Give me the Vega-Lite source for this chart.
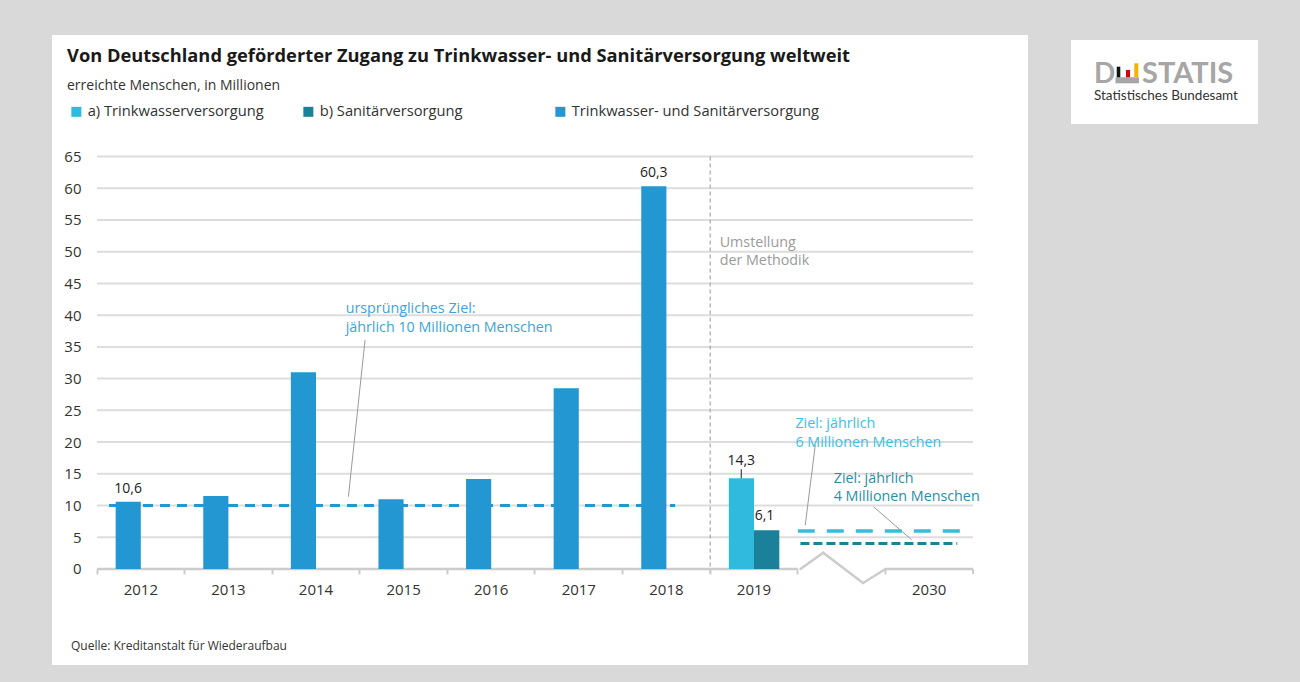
{
  "$schema": "https://vega.github.io/schema/vega-lite/v6.json",
  "background": "#d9d9d9",
  "padding": {"left": 52, "top": 35, "right": 42, "bottom": 17},
  "autosize": {"type": "pad"},
  "spacing": 43,
  "resolve": {"scale": {"x": "independent", "y": "independent"}},
  "config": {
    "font": "Open Sans",
    "locale": {"number": {"decimal": ",", "thousands": ".", "grouping": [3], "currency": ["", " €"]}},
    "view": {"stroke": null}
  },
  "datasets": {
    "bars": [
      {"year": "2012", "series": "Trinkwasser- und Sanitärversorgung", "value": 10.6},
      {"year": "2013", "series": "Trinkwasser- und Sanitärversorgung", "value": 11.5},
      {"year": "2014", "series": "Trinkwasser- und Sanitärversorgung", "value": 31.0},
      {"year": "2015", "series": "Trinkwasser- und Sanitärversorgung", "value": 11.0},
      {"year": "2016", "series": "Trinkwasser- und Sanitärversorgung", "value": 14.2},
      {"year": "2017", "series": "Trinkwasser- und Sanitärversorgung", "value": 28.5},
      {"year": "2018", "series": "Trinkwasser- und Sanitärversorgung", "value": 60.3},
      {"year": "2019", "series": "a) Trinkwasserversorgung", "value": 14.3},
      {"year": "2019", "series": "b) Sanitärversorgung", "value": 6.1}
    ],
    "grid": [
      {"g": 5}, {"g": 10}, {"g": 15}, {"g": 20}, {"g": 25}, {"g": 30}, {"g": 35},
      {"g": 40}, {"g": 45}, {"g": 50}, {"g": 55}, {"g": 60}, {"g": 65}
    ]
  },
  "hconcat": [
    {
      "width": 976,
      "height": 630,
      "view": {"fill": "#ffffff", "stroke": null},
      "resolve": {"axis": {"x": "independent", "y": "independent"}},
      "title": {
        "text": "Von Deutschland geförderter Zugang zu Trinkwasser- und Sanitärversorgung weltweit",
        "subtitle": "erreichte Menschen, in Millionen",
        "anchor": "start",
        "frame": "group",
        "offset": -59,
        "dx": 15,
        "font": "Open Sans",
        "fontSize": 18.3,
        "fontWeight": "bold",
        "color": "#1a1a1a",
        "subtitleFont": "Open Sans",
        "subtitleFontSize": 14,
        "subtitleColor": "#333333",
        "subtitlePadding": 13
      },
      "layer": [
        {
          "data": {"name": "grid"},
          "mark": {"type": "rule", "color": "#dddddd", "strokeWidth": 2},
          "encoding": {
            "x": {"datum": "2012", "bandPosition": 0, "axis": null},
            "x2": {"datum": "2030", "bandPosition": 1},
            "y": {"field": "g", "type": "quantitative", "axis": null}
          }
        },
        {
          "data": {"values": [{}]},
          "mark": {"type": "rule", "color": "#cccccc", "strokeWidth": 2.5},
          "encoding": {
            "x": {"datum": "2012", "bandPosition": 0, "axis": null},
            "x2": {"datum": " ", "bandPosition": 0},
            "y": {"datum": 0, "axis": null}
          }
        },
        {
          "data": {"values": [{}]},
          "mark": {"type": "rule", "color": "#cccccc", "strokeWidth": 2.5},
          "encoding": {
            "x": {"datum": "2030", "bandPosition": 0, "axis": null},
            "x2": {"datum": "2030", "bandPosition": 1},
            "y": {"datum": 0, "axis": null}
          }
        },
        {
          "data": {"values": [{}]},
          "mark": {"type": "rule", "color": "#cccccc", "strokeWidth": 2},
          "encoding": {
            "x": {"datum": "2030", "bandPosition": 1, "axis": null},
            "y": {"datum": 0, "axis": null},
            "y2": {"datum": -0.8}
          }
        },
        {
          "data": {"values": [{}]},
          "mark": {"type": "rule", "color": "#cccccc", "strokeWidth": 2.5, "strokeCap": "round"},
          "encoding": {
            "x": {"datum": " ", "bandPosition": 0.03, "axis": null},
            "x2": {"datum": " ", "bandPosition": 0.29},
            "y": {"datum": 0, "axis": null},
            "y2": {"datum": 2.57}
          }
        },
        {
          "data": {"values": [{}]},
          "mark": {"type": "rule", "color": "#cccccc", "strokeWidth": 2.5, "strokeCap": "round"},
          "encoding": {
            "x": {"datum": " ", "bandPosition": 0.29, "axis": null},
            "x2": {"datum": " ", "bandPosition": 0.745},
            "y": {"datum": 2.57, "axis": null},
            "y2": {"datum": -2.2}
          }
        },
        {
          "data": {"values": [{}]},
          "mark": {"type": "rule", "color": "#cccccc", "strokeWidth": 2.5, "strokeCap": "round"},
          "encoding": {
            "x": {"datum": " ", "bandPosition": 0.745, "axis": null},
            "x2": {"datum": "2030", "bandPosition": 0},
            "y": {"datum": -2.2, "axis": null},
            "y2": {"datum": 0}
          }
        },
        {
          "data": {"values": [{}]},
          "mark": {"type": "rule", "color": "#a8a8a8", "strokeWidth": 1.2, "strokeDash": [4, 3]},
          "encoding": {
            "x": {"datum": "2019", "bandPosition": 0, "axis": null},
            "y": {"datum": 65, "axis": null},
            "y2": {"datum": -0.7}
          }
        },
        {
          "data": {"name": "bars"},
          "transform": [{"filter": "datum.series != 'b) Sanitärversorgung'"}],
          "mark": {"type": "rect"},
          "encoding": {
            "x": {
              "field": "year",
              "type": "nominal",
              "bandPosition": 0.213,
              "scale": {
                "type": "band",
                "domain": ["2012", "2013", "2014", "2015", "2016", "2017", "2018", "2019", " ", "2030"],
                "paddingInner": 0,
                "paddingOuter": 0.5708,
                "align": 0.45
              },
              "axis": {
                "orient": "bottom",
                "offset": -96,
                "domain": false,
                "ticks": true,
                "bandPosition": 0,
                "tickSize": 5,
                "tickWidth": 2,
                "tickColor": "#cccccc",
                "labelOffset": 0,
                "labelPadding": 8,
                "labelFont": "Open Sans",
                "labelFontSize": 15,
                "labelColor": "#333333",
                "labelAngle": 0,
                "title": null,
                "grid": false
              }
            },
            "x2": {"field": "year", "bandPosition": 0.5},
            "y": {
              "field": "value",
              "type": "quantitative",
              "scale": {"domain": [-15.13, 84.15], "nice": false, "zero": false},
              "axis": {
                "orient": "left",
                "offset": -30,
                "domain": false,
                "ticks": false,
                "tickSize": 0,
                "grid": false,
                "values": [0, 5, 10, 15, 20, 25, 30, 35, 40, 45, 50, 55, 60, 65],
                "labelPadding": 1,
                "labelFont": "Open Sans",
                "labelFontSize": 15,
                "labelColor": "#333333",
                "title": null
              }
            },
            "y2": {"datum": 0},
            "color": {
              "field": "series",
              "type": "nominal",
              "scale": {
                "domain": ["a) Trinkwasserversorgung", "b) Sanitärversorgung", "Trinkwasser- und Sanitärversorgung"],
                "range": ["#2fbade", "#1a8198", "#2397d1"]
              },
              "legend": {
                "orient": "none",
                "legendX": 17,
                "legendY": 69,
                "direction": "horizontal",
                "title": null,
                "symbolType": "square",
                "symbolSize": 100,
                "symbolStrokeWidth": 0,
                "labelFont": "Open Sans",
                "labelFontSize": 14.7,
                "labelColor": "#333333",
                "labelOffset": 4,
                "columnPadding": 37,
                "labelLimit": 400,
                "labelExpr": "datum.label == 'b) Sanitärversorgung' ? datum.label + '\u00a0\u00a0\u00a0\u00a0\u00a0\u00a0\u00a0\u00a0\u00a0\u00a0\u00a0\u00a0\u00a0\u00a0\u200b' : datum.label"
              }
            }
          }
        },
        {
          "data": {"name": "bars"},
          "transform": [{"filter": "datum.series == 'b) Sanitärversorgung'"}],
          "mark": {"type": "rect"},
          "encoding": {
            "x": {"field": "year", "type": "nominal", "bandPosition": 0.5, "axis": null},
            "x2": {"field": "year", "bandPosition": 0.789},
            "y": {"field": "value", "type": "quantitative", "axis": null},
            "y2": {"datum": 0},
            "color": {"field": "series", "type": "nominal", "legend": null}
          }
        },
        {
          "data": {"values": [{}]},
          "mark": {"type": "rule", "color": "#2397d1", "strokeWidth": 3, "strokeDash": [10, 7]},
          "encoding": {
            "x": {"datum": "2012", "bandPosition": 0.137, "axis": null},
            "x2": {"datum": "2018", "bandPosition": 0.6},
            "y": {"datum": 10, "axis": null}
          }
        },
        {
          "data": {"values": [{}]},
          "mark": {"type": "rule", "color": "#35bde0", "strokeWidth": 3.5, "strokeDash": [17, 12]},
          "encoding": {
            "x": {"datum": " ", "bandPosition": 0, "axis": null},
            "x2": {"datum": "2030", "bandPosition": 0.98},
            "y": {"datum": 6, "axis": null}
          }
        },
        {
          "data": {"values": [{}]},
          "mark": {"type": "rule", "color": "#1d8299", "strokeWidth": 3, "strokeDash": [9, 4]},
          "encoding": {
            "x": {"datum": " ", "bandPosition": 0.03, "axis": null},
            "x2": {"datum": "2030", "bandPosition": 0.82},
            "y": {"datum": 4, "axis": null}
          }
        },
        {
          "data": {"values": [{}]},
          "mark": {"type": "rule", "color": "#9a9a9a", "strokeWidth": 1},
          "encoding": {
            "x": {"datum": "2015", "bandPosition": 0.06, "axis": null},
            "x2": {"datum": "2014", "bandPosition": 0.87},
            "y": {"datum": 36.1, "axis": null},
            "y2": {"datum": 11.4}
          }
        },
        {
          "data": {"values": [{}]},
          "mark": {"type": "rule", "color": "#9a9a9a", "strokeWidth": 1},
          "encoding": {
            "x": {"datum": " ", "bandPosition": 0.2, "axis": null},
            "x2": {"datum": " ", "bandPosition": 0.085},
            "y": {"datum": 19.6, "axis": null},
            "y2": {"datum": 6.9}
          }
        },
        {
          "data": {"values": [{}]},
          "mark": {"type": "rule", "color": "#9a9a9a", "strokeWidth": 1},
          "encoding": {
            "x": {"datum": " ", "bandPosition": 0.865, "axis": null},
            "x2": {"datum": "2030", "bandPosition": 0.3},
            "y": {"datum": 9.8, "axis": null},
            "y2": {"datum": 4.6}
          }
        },
        {
          "data": {"values": [{}]},
          "mark": {"type": "rule", "color": "#444444", "strokeWidth": 1.2},
          "encoding": {
            "x": {"datum": "2019", "bandPosition": 0.355, "axis": null},
            "y": {"datum": 14.3, "axis": null},
            "y2": {"datum": 15.7}
          }
        },
        {
          "data": {"name": "bars"},
          "transform": [{"filter": "datum.year == '2012' || datum.year == '2018'"}],
          "mark": {"type": "text", "dy": -9, "baseline": "alphabetic", "fontSize": 14, "color": "#222222"},
          "encoding": {
            "x": {"field": "year", "type": "nominal", "bandPosition": 0.355, "axis": null},
            "y": {"field": "value", "type": "quantitative", "axis": null},
            "text": {"field": "value", "type": "quantitative", "format": ".1f"}
          }
        },
        {
          "data": {"name": "bars"},
          "transform": [{"filter": "datum.series == 'a) Trinkwasserversorgung'"}],
          "mark": {"type": "text", "dy": -13, "baseline": "alphabetic", "fontSize": 14, "color": "#222222"},
          "encoding": {
            "x": {"field": "year", "type": "nominal", "bandPosition": 0.355, "axis": null},
            "y": {"field": "value", "type": "quantitative", "axis": null},
            "text": {"field": "value", "type": "quantitative", "format": ".1f"}
          }
        },
        {
          "data": {"name": "bars"},
          "transform": [{"filter": "datum.series == 'b) Sanitärversorgung'"}],
          "mark": {"type": "text", "dy": -10, "baseline": "alphabetic", "fontSize": 14, "color": "#222222"},
          "encoding": {
            "x": {"field": "year", "type": "nominal", "bandPosition": 0.62, "axis": null},
            "y": {"field": "value", "type": "quantitative", "axis": null},
            "text": {"field": "value", "type": "quantitative", "format": ".1f"}
          }
        },
        {
          "data": {"values": [{}]},
          "mark": {"type": "text", "align": "left", "baseline": "alphabetic", "fontSize": 14.3, "lineHeight": 18.7, "color": "#3ea3db", "text": ["ursprüngliches Ziel:", "jährlich 10 Millionen Menschen"]},
          "encoding": {
            "x": {"datum": "2014", "bandPosition": 0.839, "axis": null},
            "y": {"datum": 40.34, "axis": null}
          }
        },
        {
          "data": {"values": [{}]},
          "mark": {"type": "text", "align": "left", "baseline": "alphabetic", "fontSize": 14.3, "lineHeight": 18, "color": "#9b9b9b", "text": ["Umstellung", "der Methodik"]},
          "encoding": {
            "x": {"datum": "2019", "bandPosition": 0.108, "axis": null},
            "y": {"datum": 50.74, "axis": null}
          }
        },
        {
          "data": {"values": [{}]},
          "mark": {"type": "text", "align": "left", "baseline": "alphabetic", "fontSize": 14.3, "lineHeight": 18.7, "color": "#3cc0e3", "text": ["Ziel: jährlich", "6 Millionen Menschen"]},
          "encoding": {
            "x": {"datum": "2019", "bandPosition": 0.973, "axis": null},
            "y": {"datum": 22.22, "axis": null}
          }
        },
        {
          "data": {"values": [{}]},
          "mark": {"type": "text", "align": "left", "baseline": "alphabetic", "fontSize": 14.3, "lineHeight": 18.7, "color": "#2a8ea6", "text": ["Ziel: jährlich", "4 Millionen Menschen"]},
          "encoding": {
            "x": {"datum": " ", "bandPosition": 0.41, "axis": null},
            "y": {"datum": 13.6, "axis": null}
          }
        },
        {
          "data": {"values": [{}]},
          "mark": {"type": "text", "align": "left", "baseline": "alphabetic", "fontSize": 12, "color": "#333333", "text": "Quelle: Kreditanstalt für Wiederaufbau"},
          "encoding": {
            "x": {"datum": "2012", "bandPosition": -0.297, "axis": null},
            "y": {"datum": -12.76, "axis": null}
          }
        }
      ]
    },
    {
      "spacing": 4,
      "vconcat": [
        {
          "width": 187,
          "height": 1,
          "data": {"values": []},
          "mark": "point"
        },
        {
          "width": 187,
          "height": 84,
          "view": {"fill": "#ffffff", "stroke": null},
          "layer": [
            {
              "data": {"values": [{}]},
              "mark": {"type": "rect", "color": "#a6a6a6"},
              "encoding": {
                "x": {"datum": 44.5, "type": "quantitative", "scale": {"domain": [0, 187], "nice": false, "zero": false}, "axis": null},
                "x2": {"datum": 68},
                "y": {"datum": 37.3, "type": "quantitative", "scale": {"domain": [0, 84], "reverse": true, "nice": false, "zero": false}, "axis": null},
                "y2": {"datum": 43.3}
              }
            },
            {
              "data": {"values": [{}]},
              "mark": {"type": "rect", "color": "#111111"},
              "encoding": {
                "x": {"datum": 45.7, "type": "quantitative", "axis": null},
                "x2": {"datum": 49.3},
                "y": {"datum": 26.7, "type": "quantitative", "axis": null},
                "y2": {"datum": 37.3}
              }
            },
            {
              "data": {"values": [{}]},
              "mark": {"type": "rect", "color": "#dd0000"},
              "encoding": {
                "x": {"datum": 55, "type": "quantitative", "axis": null},
                "x2": {"datum": 59},
                "y": {"datum": 30, "type": "quantitative", "axis": null},
                "y2": {"datum": 37.3}
              }
            },
            {
              "data": {"values": [{}]},
              "mark": {"type": "rect", "color": "#f0b400"},
              "encoding": {
                "x": {"datum": 63.3, "type": "quantitative", "axis": null},
                "x2": {"datum": 67.3},
                "y": {"datum": 23.3, "type": "quantitative", "axis": null},
                "y2": {"datum": 37.3}
              }
            },
            {
              "data": {"values": [{}]},
              "mark": {"type": "text", "text": "D", "font": "Lato", "fontWeight": "bold", "fontSize": 28, "color": "#a6a6a6", "align": "left", "baseline": "alphabetic"},
              "encoding": {
                "x": {"datum": 23, "type": "quantitative", "axis": null},
                "y": {"datum": 43.3, "type": "quantitative", "axis": null}
              }
            },
            {
              "data": {"values": [{}]},
              "mark": {"type": "text", "text": "STATIS", "font": "Lato", "fontWeight": "bold", "fontSize": 29, "color": "#a6a6a6", "align": "left", "baseline": "alphabetic"},
              "encoding": {
                "x": {"datum": 71, "type": "quantitative", "axis": null},
                "y": {"datum": 43.3, "type": "quantitative", "axis": null}
              }
            },
            {
              "data": {"values": [{}]},
              "mark": {"type": "text", "text": "Statistisches Bundesamt", "font": "Lato", "fontSize": 13.5, "color": "#333333", "align": "left", "baseline": "alphabetic"},
              "encoding": {
                "x": {"datum": 23, "type": "quantitative", "axis": null},
                "y": {"datum": 60, "type": "quantitative", "axis": null}
              }
            }
          ]
        }
      ]
    }
  ]
}
